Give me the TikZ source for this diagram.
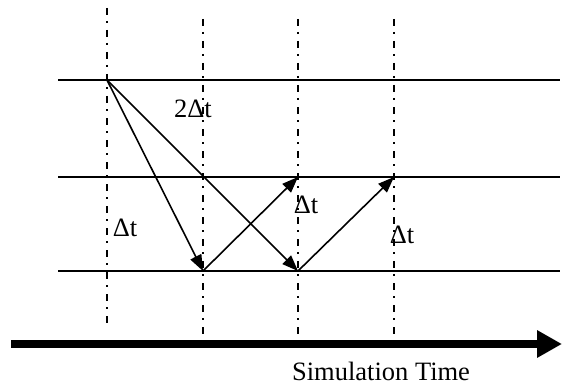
\documentclass[tikz,border=0pt]{standalone}
\usepackage{fontspec}
\setmainfont{Liberation Serif}
\usetikzlibrary{arrows.meta}

\begin{document}
\begin{tikzpicture}[
  x=1pt, y=-1pt,
  level/.style={line width=1.5pt},
  tickline/.style={line width=1.7pt, dash pattern=on 7pt off 6pt on 2pt off 7pt},
  msg/.style={line width=1.6pt, -{Triangle[length=16pt,width=12pt]}},
  lbl/.style={inner sep=0pt, font=\fontsize{26.5}{30}\selectfont},
]
  \useasboundingbox (0,0) rectangle (577,385);

  % time instants
  \draw[tickline] (107,8) -- (107,323);
  \foreach \x in {203,298,394}
    \draw[tickline] (\x,19) -- (\x,337);

  % levels
  \draw[level] (58,80) -- (560,80);
  \draw[level] (58,177) -- (560,177);
  \draw[level] (58,271) -- (560,271);

  % events
  \coordinate (a0) at (107,80);
  \coordinate (b1) at (298,177);
  \coordinate (b2) at (394,177);
  \coordinate (c1) at (203,271);
  \coordinate (c2) at (298,271);

  \draw[msg] (a0) -- (c1);
  \draw[msg] (a0) -- (c2);
  \draw[msg] (c1) -- (b1);
  \draw[msg] (c2) -- (b2);

  \node[lbl] (dt2) at (193,109) {2Δt};
  \node[lbl] (dt1) at (125,228) {Δt};
  \node[lbl] (dt3) at (306,205) {Δt};
  \node[lbl] (dt4) at (402,235) {Δt};

  % simulation time axis
  \coordinate (t0) at (11,344);
  \coordinate (t1) at (562,344);
  \draw[line width=8pt, -{Triangle[length=25pt,width=26pt]}] (t0) -- (t1);
  \node[lbl, anchor=base] (simtime) at (381,380) {Simulation Time};
\end{tikzpicture}
\end{document}
